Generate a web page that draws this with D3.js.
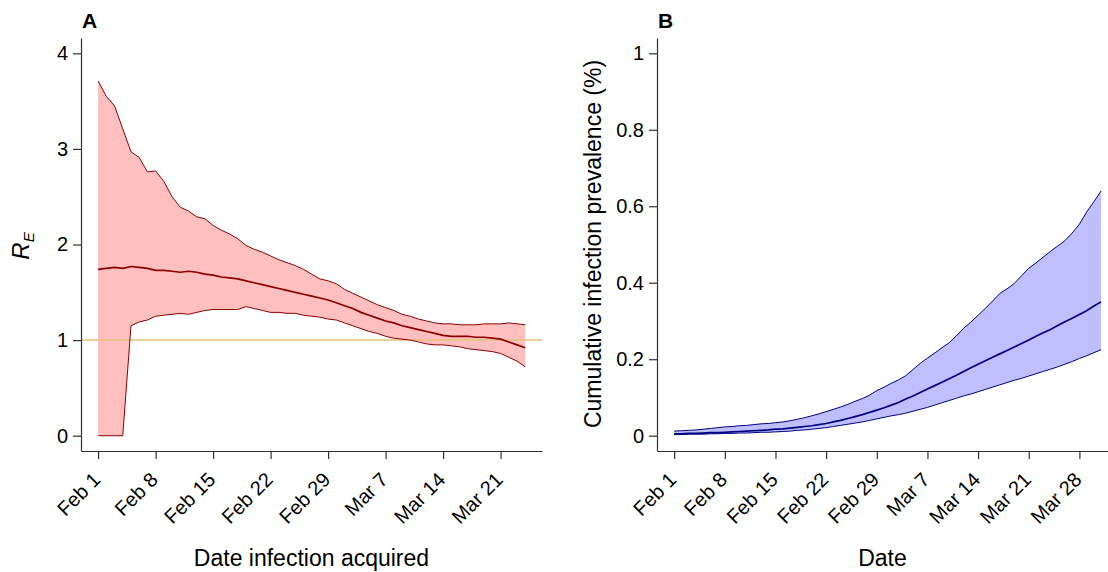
<!DOCTYPE html>
<html>
<head>
<meta charset="utf-8">
<script src="https://cdn.jsdelivr.net/npm/d3@7"></script>
<style>
  body { margin: 0; background: #fff; }
  svg { font-family: "Liberation Sans", Arial, Helvetica, sans-serif; }
  .axis path, .axis line { stroke: #333; stroke-width: 1.2; }
  .axis text { font-size: 20px; fill: #000; font-family: "Liberation Sans", Arial, Helvetica, sans-serif; }
</style>
</head>
<body>
<svg id="chart" width="1108" height="572"></svg>
<script>
// panel A: effective reproduction number by date infection acquired (Feb 1 .. Mar 24)
var reUpper = [3.71, 3.55, 3.45, 3.21, 2.97, 2.91, 2.76, 2.77, 2.66, 2.50, 2.39, 2.35, 2.29, 2.27,
  2.20, 2.15, 2.11, 2.06, 1.99, 1.95, 1.92, 1.88, 1.84, 1.81, 1.78, 1.74, 1.69, 1.64, 1.62, 1.59,
  1.53, 1.49, 1.45, 1.41, 1.37, 1.34, 1.31, 1.27, 1.25, 1.22, 1.20, 1.18, 1.17, 1.17, 1.16, 1.16,
  1.16, 1.17, 1.17, 1.17, 1.18, 1.17, 1.16];
var reMedian = [1.74, 1.75, 1.76, 1.75, 1.77, 1.76, 1.75, 1.73, 1.73, 1.72, 1.71, 1.72, 1.71, 1.69,
  1.68, 1.66, 1.65, 1.64, 1.62, 1.60, 1.58, 1.56, 1.54, 1.52, 1.50, 1.48, 1.46, 1.44, 1.42, 1.39,
  1.36, 1.33, 1.29, 1.26, 1.23, 1.20, 1.18, 1.15, 1.13, 1.11, 1.09, 1.07, 1.05, 1.04, 1.04, 1.04,
  1.03, 1.03, 1.02, 1.01, 0.98, 0.95, 0.92];
var reLower = [0, 0, 0, 0, 1.15, 1.19, 1.21, 1.25, 1.26, 1.27, 1.28, 1.27, 1.29, 1.31,
  1.32, 1.32, 1.32, 1.32, 1.35, 1.33, 1.31, 1.29, 1.29, 1.28, 1.28, 1.26, 1.25, 1.24, 1.22, 1.21,
  1.18, 1.15, 1.12, 1.09, 1.07, 1.04, 1.02, 1.01, 1.00, 0.98, 0.96, 0.95, 0.95, 0.94, 0.93, 0.91,
  0.90, 0.89, 0.88, 0.86, 0.82, 0.78, 0.72];

// panel B: cumulative infection prevalence (%) by date (Feb 1 .. Mar 30)
var prevUpper = [0.012, 0.013, 0.014, 0.015, 0.017, 0.019, 0.021, 0.023, 0.024, 0.026, 0.027, 0.029,
  0.031, 0.032, 0.034, 0.036, 0.039, 0.043, 0.047, 0.052, 0.057, 0.063, 0.069, 0.075, 0.082, 0.090,
  0.097, 0.106, 0.118, 0.127, 0.137, 0.146, 0.157, 0.173, 0.189, 0.203, 0.216, 0.230, 0.243, 0.261,
  0.281, 0.297, 0.315, 0.333, 0.352, 0.372, 0.384, 0.398, 0.418, 0.438, 0.452, 0.467, 0.482, 0.496,
  0.510, 0.530, 0.553, 0.585, 0.612, 0.640];
var prevMedian = [0.005, 0.005, 0.006, 0.006, 0.007, 0.008, 0.008, 0.009, 0.010, 0.011, 0.012, 0.013,
  0.014, 0.015, 0.017, 0.018, 0.020, 0.022, 0.024, 0.026, 0.029, 0.032, 0.036, 0.040, 0.045, 0.050,
  0.055, 0.061, 0.067, 0.073, 0.080, 0.087, 0.096, 0.104, 0.113, 0.122, 0.131, 0.140, 0.149, 0.158,
  0.168, 0.178, 0.187, 0.196, 0.205, 0.214, 0.223, 0.232, 0.241, 0.250, 0.260, 0.269, 0.278, 0.288,
  0.298, 0.307, 0.317, 0.327, 0.339, 0.350];
var prevLower = [0.003, 0.003, 0.004, 0.004, 0.004, 0.005, 0.005, 0.006, 0.006, 0.007, 0.007, 0.008,
  0.009, 0.009, 0.010, 0.011, 0.012, 0.014, 0.015, 0.017, 0.019, 0.021, 0.024, 0.027, 0.030, 0.033,
  0.036, 0.040, 0.044, 0.048, 0.052, 0.055, 0.059, 0.064, 0.069, 0.074, 0.080, 0.086, 0.092, 0.098,
  0.104, 0.109, 0.115, 0.121, 0.127, 0.133, 0.139, 0.145, 0.150, 0.156, 0.162, 0.168, 0.174, 0.180,
  0.187, 0.194, 0.202, 0.209, 0.217, 0.225];

var tickDatesA = ['2020-02-01', '2020-02-08', '2020-02-15', '2020-02-22', '2020-02-29',
  '2020-03-07', '2020-03-14', '2020-03-21'];
var tickDatesB = ['2020-02-01', '2020-02-08', '2020-02-15', '2020-02-22', '2020-02-29',
  '2020-03-07', '2020-03-14', '2020-03-21', '2020-03-28'];
var ticksA = [0, 1, 2, 3, 4];
var ticksB = [0, 0.2, 0.4, 0.6, 0.8, 1];

var parse = d3.utcParse('%Y-%m-%d');
var fmt = d3.utcFormat('%b %-d');
var start = parse('2020-02-01');
function day(i) { return d3.utcDay.offset(start, i); }

var svg = d3.select('#chart');

function panel(opt) {
    var n = opt.mid.length;
    var pad = (n - 1) * 0.04;
    var x = d3.scaleUtc()
        .domain([d3.utcHour.offset(start, -pad * 24), d3.utcHour.offset(start, (n - 1 + pad) * 24)])
        .range([opt.left, opt.right]);
    var y = d3.scaleLinear().domain(opt.ydom).range([opt.bottom, opt.top]);
    var g = svg.append('g');

    var rows = opt.mid.map(function(v, i) {
        return { date: day(i), lo: opt.lo[i], mid: v, hi: opt.hi[i] };
    });

    g.append('path')
        .datum(rows)
        .attr('fill', opt.fill)
        .attr('d', d3.area().x(function(d) { return x(d.date); })
            .y0(function(d) { return y(d.lo); })
            .y1(function(d) { return y(d.hi); }));

    if (opt.refLine != null) {
        g.append('line')
            .attr('x1', opt.left).attr('x2', opt.right)
            .attr('y1', y(opt.refLine)).attr('y2', y(opt.refLine))
            .attr('stroke', '#e6c27c').attr('stroke-width', 1.5);
    }

    ['lo', 'hi'].forEach(function(k) {
        g.append('path')
            .datum(rows)
            .attr('fill', 'none')
            .attr('stroke', opt.stroke)
            .attr('stroke-width', 1)
            .attr('d', d3.line().x(function(d) { return x(d.date); }).y(function(d) { return y(d[k]); }));
    });
    g.append('path')
        .datum(rows)
        .attr('fill', 'none')
        .attr('stroke', opt.stroke)
        .attr('stroke-width', 1.7)
        .attr('d', d3.line().x(function(d) { return x(d.date); }).y(function(d) { return y(d.mid); }));

    // axes, R style (detached from plot box)
    g.append('g')
        .attr('class', 'axis')
        .attr('transform', 'translate(' + opt.left + ',0)')
        .call(d3.axisLeft(y).tickValues(opt.yticks).tickSize(8).tickPadding(5).tickSizeOuter(0)
            .tickFormat(d3.format('~g')));

    var xa = g.append('g')
        .attr('class', 'axis')
        .attr('transform', 'translate(0,' + opt.bottom + ')')
        .call(d3.axisBottom(x).tickValues(opt.xticks.map(parse)).tickSize(8).tickSizeOuter(0)
            .tickFormat(fmt));
    xa.selectAll('text')
        .attr('text-anchor', 'end')
        .attr('y', 0)
        .attr('dy', 0)
        .attr('transform', 'translate(3,30) rotate(-45)');

    // panel letter
    svg.append('text')
        .attr('x', opt.left + 1).attr('y', 28)
        .attr('font-size', 21).attr('font-weight', 'bold')
        .text(opt.letter);

    svg.append('text')
        .attr('x', (opt.left + Math.min(opt.right, 1108)) / 2).attr('y', 566)
        .attr('text-anchor', 'middle').attr('font-size', 23)
        .text(opt.xlabel);

    return { x: x, y: y };
}

panel({
    mid: reMedian, lo: reLower, hi: reUpper,
    left: 81, right: 542, top: 38, bottom: 451,
    ydom: [-0.16, 4.16], yticks: ticksA, xticks: tickDatesA,
    fill: '#ffbfbf', stroke: '#8b0000', refLine: 1,
    letter: 'A', xlabel: 'Date infection acquired'
});

panel({
    mid: prevMedian, lo: prevLower, hi: prevUpper,
    left: 657, right: 1118, top: 38, bottom: 451,
    ydom: [-0.04, 1.04], yticks: ticksB, xticks: tickDatesB,
    fill: '#bfbfff', stroke: '#000080', refLine: null,
    letter: 'B', xlabel: 'Date'
});

// y titles
var ra = svg.append('text')
    .attr('transform', 'translate(29,246) rotate(-90)')
    .attr('text-anchor', 'middle').attr('font-size', 24);
ra.append('tspan').attr('font-style', 'italic').text('R');
ra.append('tspan').attr('font-style', 'italic').attr('font-size', 15).attr('dy', 5).text('E');

svg.append('text')
    .attr('transform', 'translate(601,244) rotate(-90)')
    .attr('text-anchor', 'middle').attr('font-size', 23)
    .text('Cumulative infection prevalence (%)');
</script>
</body>
</html>
